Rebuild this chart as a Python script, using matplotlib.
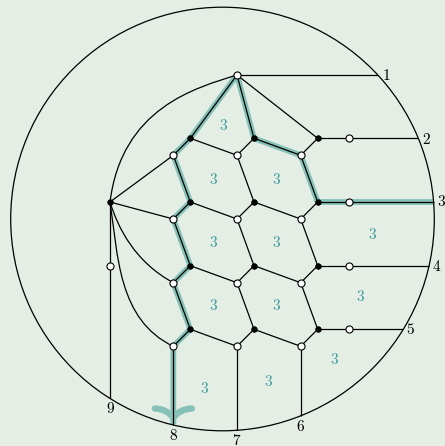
import numpy as np
import matplotlib
matplotlib.use("Agg")
import matplotlib.pyplot as plt
from matplotlib.path import Path
from matplotlib.patches import PathPatch, Circle

plt.rcParams['mathtext.fontset'] = 'cm'

BG = '#e5eee5'
TEAL_HL = '#86c1b8'
TEAL_TXT = '#3a9c9c'

# ---- data: graph geometry (pixel-like coordinates, y downward) ----
circle_center = (222.5, 219.0)
circle_radius = 211.8

top_node = (237.0, 75.0)
hub_node = (110.0, 202.0)
node9 = (110.0, 265.7)

black_x = [190.3, 254.0, 317.7]
white_x = [173.3, 237.0, 300.7]
pendant_x = 349.3
black_y = [138.3, 202.0, 265.7, 329.3]
white_y = [155.3, 219.0, 282.7, 346.3]

right_labels = ['1', '2', '3', '4', '5']
bottom_labels = ['8', '7', '6']
left_label = '9'

face_labels = ['3'] * 12
face_x = [223.7, 213.3, 277.0, 213.3, 277.0, 373.0, 213.3, 277.0, 360.0, 205.0, 268.7, 334.3]
face_y = [125.0, 179.3, 179.3, 242.3, 242.3, 234.3, 306.0, 306.0, 296.7, 388.3, 381.0, 359.3]

# ---- figure ----
W, H = 445, 446
fig = plt.figure(figsize=(W / 100, H / 100), dpi=100, facecolor=BG)
ax = fig.add_axes([0, 0, 1, 1])
ax.set_xlim(0, W)
ax.set_ylim(H, 0)
ax.set_aspect('auto')
ax.axis('off')
ax.set_facecolor(BG)

cx, cy = circle_center
R = circle_radius

def circ_x(y):
    return cx + np.sqrt(R**2 - (y - cy)**2)

def circ_y(x):
    return cy + np.sqrt(R**2 - (x - cx)**2)

LW = 0.9
HLW = 4.2

B = [[(black_x[c], black_y[r]) for c in range(3)] for r in range(4)]
Wn = [[(white_x[c], white_y[r]) for c in range(3)] for r in range(4)]
P = [(pendant_x, black_y[r]) for r in range(4)]

b1 = (circ_x(top_node[1]), top_node[1])
bR = [(circ_x(y), y) for y in black_y]
bB = [(x, circ_y(x)) for x in white_x]
b9 = (node9[0], circ_y(node9[0]))

# highlighted paths (drawn first, beneath)
path_left = [top_node]
for r in range(4):
    path_left += [B[r][0], Wn[r][0]]
path_left.append((white_x[0], bB[0][1] - 1))
path_right = [top_node, B[0][1], Wn[0][2], B[1][2], P[1], bR[1]]
for pth in (path_left, path_right):
    xs, ys = zip(*pth)
    ax.plot(xs, ys, color=TEAL_HL, lw=HLW, solid_capstyle='butt', solid_joinstyle='round', zorder=1)

# arrow head (curved barbs)
tip = (white_x[0], bB[0][1] - 7)
for s in (-1, 1):
    verts = [(tip[0] + s * 18.5, tip[1] - 9.5), (tip[0] + s * 6, tip[1] - 9), tip]
    pp = PathPatch(Path(verts, [Path.MOVETO, Path.CURVE3, Path.CURVE3]), fill=False,
                   edgecolor=TEAL_HL, lw=4.6, capstyle='round', zorder=1)
    ax.add_patch(pp)

# outer circle
ax.add_patch(Circle(circle_center, R, fill=False, edgecolor='black', lw=LW, zorder=2))

def seg(a, b):
    ax.plot([a[0], b[0]], [a[1], b[1]], color='black', lw=LW, zorder=2, solid_capstyle='butt')

def bez(pts):
    codes = [Path.MOVETO] + [Path.CURVE4] * 3
    ax.add_patch(PathPatch(Path(pts, codes), fill=False, edgecolor='black', lw=LW, zorder=2))

seg(top_node, b1)
for c in range(3):
    seg(top_node, B[0][c])
for r in range(4):
    for c in range(3):
        seg(B[r][c], Wn[r][c])
        if c < 2:
            seg(B[r][c], Wn[r][c + 1])
        if r < 3:
            seg(Wn[r][c], B[r + 1][c])
    seg(B[r][2], P[r])
    seg(P[r], bR[r])
for c in range(3):
    seg(Wn[3][c], bB[c])
seg(hub_node, Wn[0][0])
seg(hub_node, Wn[1][0])
seg(hub_node, node9)
seg(node9, b9)
bez([top_node, (195, 88), (122, 108), hub_node])
bez([hub_node, (118, 228), (135, 262), Wn[2][0]])
bez([hub_node, (118, 255), (118, 320), Wn[3][0]])

# nodes
bx = [p[0] for row in B for p in row] + [hub_node[0]]
by = [p[1] for row in B for p in row] + [hub_node[1]]
wx = [p[0] for row in Wn for p in row] + [p[0] for p in P] + [top_node[0], node9[0]]
wy = [p[1] for row in Wn for p in row] + [p[1] for p in P] + [top_node[1], node9[1]]
ax.scatter(bx, by, s=16, c='black', edgecolors='black', linewidths=0.6, zorder=4)
ax.scatter(wx, wy, s=26, c='white', edgecolors='black', linewidths=0.8, zorder=4)

# boundary labels
TS = 11
ax.text(b1[0] + 4, b1[1], '$%s$' % right_labels[0], fontsize=TS, ha='left', va='center')
offs = [(4, 1), (3, 0), (3, 1), (3, 0)]
for i in range(4):
    ax.text(bR[i][0] + offs[i][0], bR[i][1] + offs[i][1], '$%s$' % right_labels[i + 1],
            fontsize=TS, ha='left', va='center')
boffs = [10, 10, 11]
for i in range(3):
    ax.text(bB[i][0], bB[i][1] + boffs[i], '$%s$' % bottom_labels[i], fontsize=TS, ha='center', va='center')
ax.text(b9[0], b9[1] + 10, '$%s$' % left_label, fontsize=TS, ha='center', va='center')

for t, x, y in zip(face_labels, face_x, face_y):
    ax.text(x, y, '$%s$' % t, fontsize=TS, color=TEAL_TXT, ha='center', va='center')

fig.savefig('out.png', dpi=100, facecolor=BG)
